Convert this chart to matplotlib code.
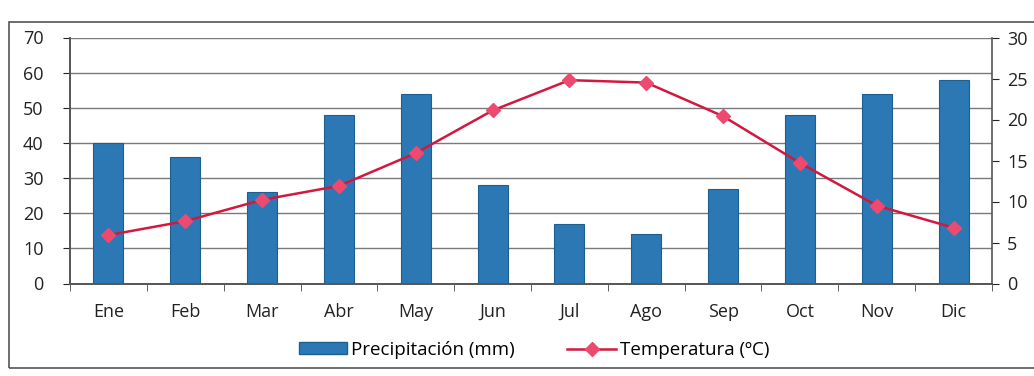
import numpy as np
import matplotlib.pyplot as plt
from matplotlib.lines import Line2D
from matplotlib.patches import Patch, Rectangle

# Monthly climate data
meses = ["Ene", "Feb", "Mar", "Abr", "May", "Jun", "Jul", "Ago", "Sep", "Oct", "Nov", "Dic"]
precipitacion = [40, 36, 26, 48, 54, 28, 17, 14, 27, 48, 54, 58]
temperatura = [5.9, 7.6, 10.2, 11.9, 15.9, 21.1, 24.8, 24.5, 20.4, 14.7, 9.5, 6.8]

bar_color = "#2B78B5"
line_color = "#D3173F"
marker_color = "#EC4A6E"

plt.rcParams["font.family"] = ["Open Sans", "DejaVu Sans"]

fig = plt.figure(figsize=(10.34, 3.76), dpi=100)
ax = fig.add_axes([70 / 1034, 1 - 283.5 / 376, 922 / 1034, 246 / 376])
ax2 = ax.twinx()

x = np.arange(len(meses))
ax.bar(x, precipitacion, width=0.39, color=bar_color, edgecolor="#1E5F91", linewidth=0.8, zorder=3)
ax2.plot(x, temperatura, color=line_color, lw=1.8, marker="D", ms=7,
         markerfacecolor=marker_color, markeredgecolor=marker_color, zorder=4)

# Left axis: precipitation
ax.set_ylim(0, 70)
ax.set_yticks(range(0, 71, 10))
ax.set_xlim(-0.5, len(meses) - 0.5)
ax.set_xticks(x)
ax.set_xticklabels(meses)
ax.set_xticks(np.arange(-0.5, len(meses), 1), minor=True)
ax.tick_params(axis="x", which="major", length=0, pad=14, labelsize=13, colors="#222222")
ax.tick_params(axis="x", which="minor", length=5, direction="out", color="#444444")
ax.tick_params(axis="y", length=5, direction="out", labelsize=13, pad=14, colors="#222222")
ax.grid(axis="y", color="#7a7a7a", lw=1, zorder=0)

# Right axis: temperature
ax2.set_ylim(0, 30)
ax2.set_yticks(range(0, 31, 5))
ax2.tick_params(axis="y", length=5, direction="out", labelsize=13, pad=6, colors="#222222")

for a in (ax, ax2):
    a.spines["top"].set_visible(False)
    for side in ("left", "right", "bottom"):
        a.spines[side].set_color("#555555")
        a.spines[side].set_linewidth(1.2)
ax.spines["right"].set_visible(False)

# Legend below the plot
handles = [
    Patch(facecolor=bar_color, edgecolor="#1E5F91"),
    Line2D([0], [0], color=line_color, lw=1.8, marker="D", ms=7,
           markerfacecolor=marker_color, markeredgecolor=marker_color),
]
fig.legend(handles, ["Precipitación (mm)", "Temperatura (ºC)"], loc="center",
           bbox_to_anchor=(534 / 1034, 1 - 350 / 376), ncol=2, frameon=False,
           fontsize=13.5, handlelength=2.6, handleheight=0.6, handletextpad=0.2,
           columnspacing=2.8)

# Outer chart border
fig.patches.append(Rectangle((9 / 1034, 1 - 368 / 376), 1.02, 346 / 376,
                             transform=fig.transFigure, fill=False,
                             edgecolor="#555555", lw=1.2))

plt.savefig("out.png", dpi=100)
